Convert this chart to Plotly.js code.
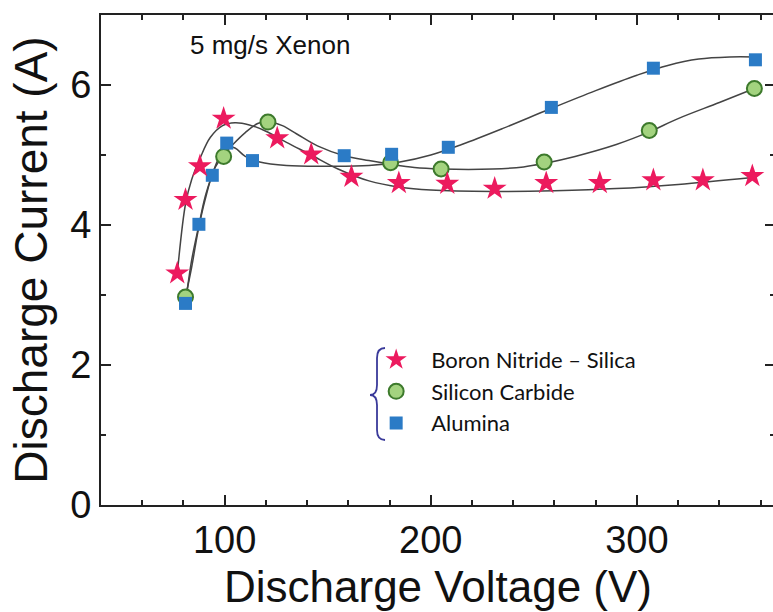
<!DOCTYPE html>
<html>
<head>
<meta charset="utf-8">
<script src="https://cdn.plot.ly/plotly-3.0.1.min.js"></script>
<style>html,body{margin:0;padding:0;overflow:hidden;background:#fff}#chart{width:776px;height:612px}</style>
</head>
<body>
<div id="chart"></div>
<script>
// Measured points
const bnX = [77, 81, 88, 99.5, 125.5, 142, 161.5, 184.5, 208, 231, 256, 282, 308, 332, 356];
const bnY = [3.31, 4.36, 4.84, 5.52, 5.24, 5.01, 4.69, 4.60, 4.59, 4.52, 4.60, 4.60, 4.64, 4.64, 4.70];
const sicX = [81, 99.5, 121, 180.5, 205, 255, 306, 357];
const sicY = [2.97, 4.98, 5.47, 4.89, 4.80, 4.90, 5.35, 5.95];
const alX = [81, 87.5, 94, 101, 113.5, 158, 181, 208.5, 258.5, 308, 357.5];
const alY = [2.88, 4.01, 4.71, 5.17, 4.92, 4.99, 5.01, 5.11, 5.68, 6.24, 6.36];

// Fitted guide curves
const bnFitX = [77, 81, 84, 88, 93, 99, 105, 112, 120, 130, 142, 155, 170, 185, 200, 230, 260, 290, 320, 356];
const bnFitY = [3.3, 4.3, 4.65, 4.95, 5.25, 5.42, 5.46, 5.43, 5.34, 5.18, 5.0, 4.8, 4.63, 4.54, 4.5, 4.48, 4.49, 4.52, 4.58, 4.68];
const sicFitX = [81, 84, 87, 90.5, 95, 99.5, 104, 110, 116, 121, 128, 135, 145, 158, 170, 180, 192, 205, 230, 245, 255, 270, 290, 306, 320, 340, 357];
const sicFitY = [2.97, 3.4, 3.9, 4.36, 4.8, 5.0, 5.15, 5.32, 5.45, 5.48, 5.42, 5.3, 5.13, 4.99, 4.92, 4.87, 4.82, 4.80, 4.80, 4.83, 4.88, 4.98, 5.15, 5.33, 5.52, 5.75, 5.95];
const alFitX = [81, 84, 87.5, 90.5, 94, 97.5, 101, 105, 110, 117, 130, 150, 170, 185, 200, 215, 235, 258, 280, 300, 315, 330, 345, 357];
const alFitY = [2.88, 3.5, 4.0, 4.4, 4.72, 4.98, 5.12, 5.1, 4.98, 4.9, 4.85, 4.84, 4.85, 4.9, 5.0, 5.15, 5.38, 5.66, 5.92, 6.14, 6.28, 6.37, 6.4, 6.4];

const seriesNames = ["Boron Nitride \u2013 Silica", "Silicon Carbide", "Alumina"];
const xTicks = [100, 200, 300];
const yTicks = [0, 2, 4, 6];

const lineStyle = {color: '#444', width: 1.5, shape: 'spline', smoothing: 1};
const traces = [
  {x: bnFitX, y: bnFitY, mode: 'lines', line: lineStyle, showlegend: false, hoverinfo: 'skip'},
  {x: sicFitX, y: sicFitY, mode: 'lines', line: lineStyle, showlegend: false, hoverinfo: 'skip'},
  {x: alFitX, y: alFitY, mode: 'lines', line: lineStyle, showlegend: false, hoverinfo: 'skip'},
  {x: sicX, y: sicY, mode: 'markers', name: seriesNames[1], legendrank: 2, legendgroup: 'b',
   marker: {symbol: 'circle', size: 15, color: '#a3d37f', line: {width: 2, color: '#3d7a2c'}}},
  {x: alX, y: alY, mode: 'markers', name: seriesNames[2], legendrank: 3, legendgroup: 'c',
   marker: {symbol: 'square', size: 13, color: '#2b7bc6', line: {width: 0}}},
  {x: bnX, y: bnY, mode: 'markers', name: seriesNames[0], legendrank: 1, legendgroup: 'a',
   marker: {symbol: 'star', size: 18, color: '#ec1a5e', line: {width: 0}}}
];

const axisFont = {family: 'Liberation Sans, Arial, sans-serif', size: 38, color: '#111'};
const layout = {
  width: 776, height: 612,
  margin: {l: 101, r: 1, t: 15, b: 107},
  paper_bgcolor: '#fff', plot_bgcolor: '#fff',
  showlegend: true,
  legend: {x: 0.386, y: 0.339, xanchor: 'left', yanchor: 'top', bgcolor: 'rgba(0,0,0,0)',
           font: {family: 'Lato, sans-serif', size: 22, color: '#111'}, tracegroupgap: 0,
           itemwidth: 60, traceorder: 'grouped'},
  xaxis: {range: [40, 367], tickvals: xTicks, ticktext: xTicks.map(String),
          ticks: 'inside', ticklen: 10, tickwidth: 2, tickcolor: '#222',
          showline: true, linewidth: 2, linecolor: '#222', mirror: 'allticks',
          showgrid: false, zeroline: false, tickfont: axisFont,
          minor: {dtick: 20, tick0: 0, ticks: 'inside', ticklen: 5, tickwidth: 2, tickcolor: '#222', showgrid: false},
          title: {text: 'Discharge Voltage (V)', font: {family: 'Liberation Sans, Arial, sans-serif', size: 44, color: '#111'}, standoff: 12}},
  yaxis: {range: [0, 7], tickvals: yTicks, ticktext: yTicks.map(String),
          ticks: 'inside', ticklen: 10, tickwidth: 2, tickcolor: '#222',
          showline: true, linewidth: 2, linecolor: '#222', mirror: 'allticks',
          showgrid: false, zeroline: false, tickfont: axisFont,
          minor: {dtick: 1, tick0: 0, ticks: 'inside', ticklen: 5, tickwidth: 2, tickcolor: '#222', showgrid: false},
          title: {text: 'Discharge Current (A)', font: {family: 'Liberation Sans, Arial, sans-serif', size: 46, color: '#111'}, standoff: 8}},
  annotations: [
    {xref: 'paper', yref: 'paper', x: 0.129, y: 0.939, xanchor: 'left', yanchor: 'middle', showarrow: false,
     text: '5 mg/s Xenon', font: {family: 'Liberation Sans, Arial, sans-serif', size: 26, color: '#111'}}
  ],
  shapes: [
    {type: 'path', xref: 'paper', yref: 'paper',
     path: 'M 0.4214,0.3204 Q 0.4095,0.3204 0.4095,0.3000 L 0.4095,0.2450 Q 0.4095,0.2245 0.3991,0.2245 Q 0.4095,0.2245 0.4095,0.2040 L 0.4095,0.1530 Q 0.4095,0.1327 0.4214,0.1327',
     line: {color: '#3a3a9a', width: 1.8}}
  ]
};

Plotly.newPlot('chart', traces, layout, {displayModeBar: false, staticPlot: true});
</script>
</body>
</html>
